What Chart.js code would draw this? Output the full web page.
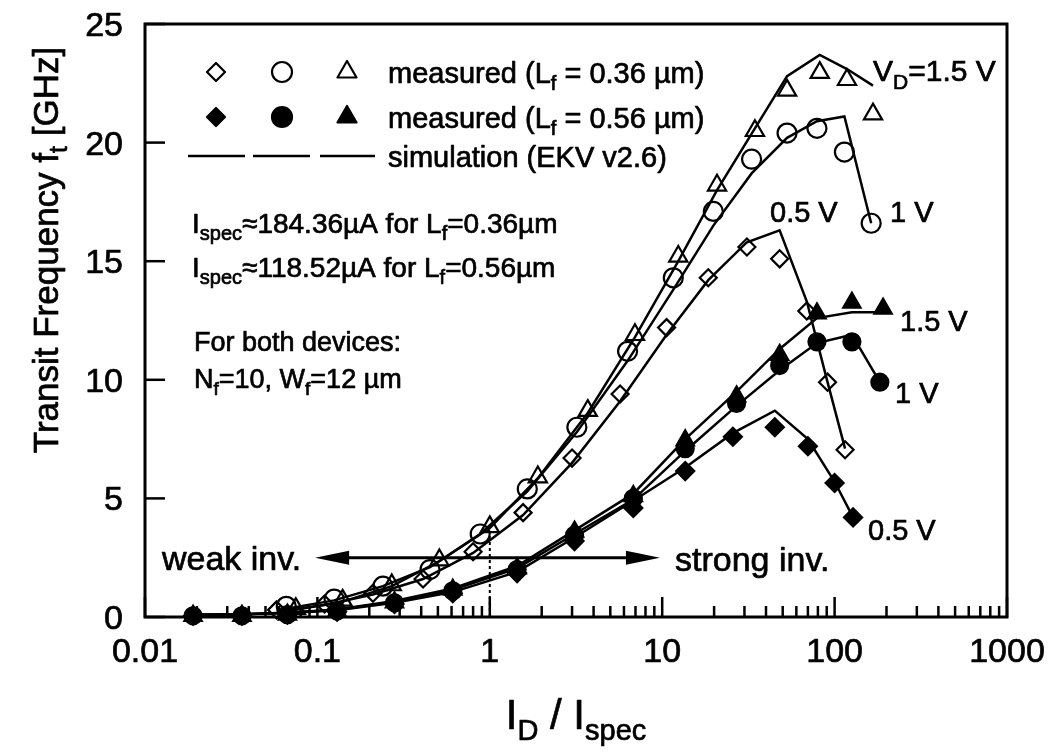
<!DOCTYPE html>
<html>
<head>
<meta charset="utf-8">
<title>Transit frequency vs inversion coefficient</title>
<script src="https://cdn.jsdelivr.net/npm/chart.js@4.4.1/dist/chart.umd.min.js"></script>
<style>
  html, body { margin: 0; padding: 0; background: #fff; }
  #wrap { width: 1053px; height: 752px; }
</style>
</head>
<body>
<div id="wrap"><canvas id="ftChart" width="1053" height="752"></canvas></div>
<script>
// ---- data ----
// measured, Lf = 0.36 um (open symbols), x = ID/Ispec, y = ft [GHz]
const xOpen05 = [0.058, 0.11, 0.21, 0.41, 0.80, 1.56, 3.0, 5.7, 10.6, 18.5, 31, 48, 69, 91, 115];
const yOpen05 = [0.3, 0.55, 1.0, 1.6, 2.75, 4.4, 6.7, 9.4, 12.2, 14.3, 15.6, 15.1, 12.9, 9.9, 7.05];
const xOpen10 = [0.066, 0.125, 0.24, 0.45, 0.88, 1.65, 3.2, 6.3, 11.6, 19.8, 33, 53, 79, 114, 163];
const yOpen10 = [0.45, 0.75, 1.3, 2.0, 3.5, 5.4, 8.0, 11.2, 14.3, 17.1, 19.3, 20.4, 20.6, 19.6, 16.6];
const xOpen15 = [0.075, 0.14, 0.27, 0.51, 1.0, 1.9, 3.7, 6.95, 12.4, 20.8, 34.5, 53, 82, 118, 167];
const yOpen15 = [0.35, 0.7, 1.35, 2.4, 3.8, 5.9, 8.7, 11.9, 15.2, 18.2, 20.5, 22.2, 22.95, 22.65, 21.2];

// measured, Lf = 0.56 um (filled symbols)
const xFill05 = [0.019, 0.0365, 0.067, 0.13, 0.28, 0.61, 1.44, 3.1, 6.8, 13.6, 25.7, 45, 70, 100, 128];
const yFill05 = [0.05, 0.05, 0.1, 0.22, 0.55, 1.0, 1.85, 3.2, 4.6, 6.15, 7.6, 8.0, 7.2, 5.65, 4.2];
const xFill10 = [0.019, 0.0365, 0.067, 0.13, 0.28, 0.61, 1.44, 3.1, 6.8, 13.6, 27, 48, 79, 126, 183];
const yFill10 = [0.05, 0.05, 0.1, 0.25, 0.6, 1.1, 2.0, 3.45, 5.0, 7.1, 9.0, 10.6, 11.6, 11.6, 9.9];
const xFill15 = [0.019, 0.0365, 0.067, 0.13, 0.28, 0.61, 1.44, 3.1, 6.8, 13.6, 27, 48, 79, 126, 191];
const yFill15 = [0.05, 0.05, 0.1, 0.25, 0.62, 1.15, 2.05, 3.6, 5.1, 7.45, 9.3, 11.05, 12.8, 13.25, 13.0];

// simulation (EKV v2.6), same abscissas as the measured points
const ySimOpen05 = [0.25, 0.5, 0.95, 1.6, 2.7, 4.3, 6.5, 9.1, 11.9, 14.2, 15.8, 16.3, 13.3, 9.9, 7.1];
const ySimOpen10 = [0.35, 0.7, 1.3, 2.1, 3.5, 5.3, 7.8, 10.8, 13.8, 16.5, 18.7, 20.2, 20.9, 21.1, 16.6];
const ySimOpen15 = [0.3, 0.65, 1.3, 2.35, 3.75, 5.85, 8.6, 11.8, 15.0, 18.0, 20.6, 22.8, 23.7, 23.1, 22.4];
const ySimFill05 = [0.1, 0.12, 0.17, 0.28, 0.6, 1.05, 1.9, 3.35, 4.9, 6.3, 7.75, 8.7, 7.5, 5.7, 4.2];
const ySimFill10 = [0.1, 0.12, 0.18, 0.3, 0.65, 1.15, 2.05, 3.5, 4.95, 7.0, 8.9, 10.4, 11.55, 11.9, 9.9];
const ySimFill15 = [0.1, 0.12, 0.18, 0.32, 0.68, 1.2, 2.15, 3.65, 5.2, 7.5, 9.5, 11.3, 12.6, 12.85, 12.85];

// axis ticks
const xTickValues = [0.01, 0.1, 1, 10, 100, 1000];
const xTickText = ['0.01', '0.1', '1', '10', '100', '1000'];
const yTickValues = [0, 5, 10, 15, 20, 25];

const FONT = '"Liberation Sans", Arial, Helvetica, sans-serif';

function pts(xs, ys) {
    return xs.map((x, i) => ({ x: x, y: ys[i] }));
}

function measured(label, xs, ys, style, filled, r) {
    return {
        label: label,
        data: pts(xs, ys),
        showLine: false,
        pointStyle: style,
        pointRadius: r,
        pointHoverRadius: r,
        pointBorderWidth: 2.2,
        pointBorderColor: '#000',
        pointBackgroundColor: filled ? '#000' : 'rgba(0,0,0,0)',
        clip: false
    };
}

function simulated(label, xs, ys) {
    return {
        label: label,
        data: pts(xs, ys),
        showLine: true,
        borderColor: '#000',
        borderWidth: 2.5,
        pointRadius: 0,
        tension: 0,
        clip: false
    };
}

// text with subscripts: parts = [[text, isSub], ...], y is the baseline
// a thin stroke makes the glyphs as heavy as in the scanned original
function richText(ctx, parts, x, y, size, align) {
    const subSize = Math.round(size * 0.7);
    let w = 0;
    parts.forEach(p => {
        ctx.font = (p[1] ? subSize : size) + 'px ' + FONT;
        w += ctx.measureText(p[0]).width;
    });
    let cx = x;
    if (align === 'center') cx = x - w / 2;
    if (align === 'right') cx = x - w;
    ctx.textAlign = 'left';
    ctx.textBaseline = 'alphabetic';
    ctx.lineWidth = 0.7;
    ctx.lineJoin = 'round';
    parts.forEach(p => {
        ctx.font = (p[1] ? subSize : size) + 'px ' + FONT;
        const ty = p[1] ? y + size * 0.25 : y;
        ctx.fillText(p[0], cx, ty);
        ctx.strokeText(p[0], cx, ty);
        cx += ctx.measureText(p[0]).width;
    });
}

function symbol(ctx, style, x, y, r, filled) {
    ctx.beginPath();
    if (style === 'circle') {
        ctx.arc(x, y, r, 0, Math.PI * 2);
    } else if (style === 'rectRot') {
        ctx.moveTo(x - r, y); ctx.lineTo(x, y - r); ctx.lineTo(x + r, y); ctx.lineTo(x, y + r);
    } else {
        const h = r * Math.sqrt(3);
        ctx.moveTo(x, y - r); ctx.lineTo(x + h / 2, y + r / 2); ctx.lineTo(x - h / 2, y + r / 2);
    }
    ctx.closePath();
    ctx.fillStyle = '#000';
    if (filled) ctx.fill();
    ctx.lineWidth = 2.2;
    ctx.strokeStyle = '#000';
    ctx.stroke();
}

const decor = {
    id: 'decor',
    afterDraw(chart) {
        const ctx = chart.ctx;
        const a = chart.chartArea;
        const xs = chart.scales.x, ys = chart.scales.y;
        ctx.save();
        ctx.fillStyle = '#000';
        ctx.strokeStyle = '#000';

        // frame
        ctx.lineWidth = 3;
        ctx.strokeRect(a.left, a.top, a.right - a.left, a.bottom - a.top);

        // x ticks (inward, log minor ticks)
        ctx.lineWidth = 2.5;
        for (let e = -2; e <= 3; e++) {
            for (let k = 1; k <= 9; k++) {
                const v = k * Math.pow(10, e);
                if (v > 1000.0001) break;
                const px = xs.getPixelForValue(v);
                const len = k === 1 ? 20 : 11;
                ctx.beginPath();
                ctx.moveTo(px, a.bottom);
                ctx.lineTo(px, a.bottom - len);
                ctx.stroke();
            }
        }
        // y ticks
        yTickValues.forEach(v => {
            const py = ys.getPixelForValue(v);
            ctx.beginPath();
            ctx.moveTo(a.left, py);
            ctx.lineTo(a.left + 20, py);
            ctx.stroke();
        });

        // tick labels
        xTickValues.forEach((v, i) => {
            richText(ctx, [[xTickText[i], false]], xs.getPixelForValue(v), a.bottom + 45, 34, 'center');
        });
        yTickValues.forEach(v => {
            richText(ctx, [[String(v), false]], a.left - 22, ys.getPixelForValue(v) + 12, 34, 'right');
        });

        // axis titles
        richText(ctx, [['I', false], ['D', true], [' / ', false], ['I', false], ['spec', true]],
            (a.left + a.right) / 2, a.bottom + 112, 42, 'center');
        ctx.save();
        ctx.translate(58, 250);
        ctx.rotate(-Math.PI / 2);
        richText(ctx, [['Transit Frequency f', false], ['t', true], [' [GHz]', false]], 0, 0, 35, 'center');
        ctx.restore();

        // legend
        const legendX = [216, 282, 347];
        const styles = ['rectRot', 'circle', 'triangle'];
        const radii = [9, 10, 11];
        styles.forEach((s, i) => {
            symbol(ctx, s, legendX[i], 72, radii[i], false);
            symbol(ctx, s, legendX[i], 117, radii[i], true);
        });
        ctx.lineWidth = 2.5;
        [[188, 245], [253, 310], [320, 375]].forEach(seg => {
            ctx.beginPath();
            ctx.moveTo(seg[0], 156);
            ctx.lineTo(seg[1], 156);
            ctx.stroke();
        });
        richText(ctx, [['measured (L', false], ['f', true], [' = 0.36 \u00b5m)', false]], 388, 83, 29, 'left');
        richText(ctx, [['measured (L', false], ['f', true], [' = 0.56 \u00b5m)', false]], 388, 128, 29, 'left');
        richText(ctx, [['simulation (EKV v2.6)', false]], 388, 167, 29, 'left');

        // notes
        richText(ctx, [['I', false], ['spec', true], ['\u2248184.36\u00b5A for L', false], ['f', true], ['=0.36\u00b5m', false]], 192, 233, 28, 'left');
        richText(ctx, [['I', false], ['spec', true], ['\u2248118.52\u00b5A for L', false], ['f', true], ['=0.56\u00b5m', false]], 192, 277, 28, 'left');
        richText(ctx, [['For both devices:', false]], 194, 351, 27, 'left');
        richText(ctx, [['N', false], ['f', true], ['=10, W', false], ['f', true], ['=12 \u00b5m', false]], 194, 388, 27, 'left');

        // curve labels
        richText(ctx, [['V', false], ['D', true], ['=1.5 V', false]], 873, 81, 30, 'left');
        richText(ctx, [['1 V', false]], 890, 222, 29, 'left');
        richText(ctx, [['0.5 V', false]], 770, 222, 29, 'left');
        richText(ctx, [['1.5 V', false]], 900, 331, 29, 'left');
        richText(ctx, [['1 V', false]], 895, 403, 29, 'left');
        richText(ctx, [['0.5 V', false]], 868, 540, 29, 'left');

        // weak / strong inversion arrow
        const ay = ys.getPixelForValue(2.5);
        const ax0 = xs.getPixelForValue(0.097), ax1 = xs.getPixelForValue(9.7);
        ctx.lineWidth = 3;
        ctx.beginPath();
        ctx.moveTo(ax0 + 20, ay);
        ctx.lineTo(ax1 - 20, ay);
        ctx.stroke();
        [[ax0, 1], [ax1, -1]].forEach(h => {
            ctx.beginPath();
            ctx.moveTo(h[0], ay);
            ctx.lineTo(h[0] + h[1] * 34, ay - 7);
            ctx.lineTo(h[0] + h[1] * 34, ay + 7);
            ctx.closePath();
            ctx.fill();
        });
        richText(ctx, [['weak inv.', false]], 162, 570, 34, 'left');
        richText(ctx, [['strong inv.', false]], 675, 571, 34, 'left');

        // dotted marker at ID = Ispec
        ctx.lineWidth = 2;
        ctx.setLineDash([3, 3]);
        ctx.beginPath();
        ctx.moveTo(xs.getPixelForValue(1), ys.getPixelForValue(0));
        ctx.lineTo(xs.getPixelForValue(1), ys.getPixelForValue(3.6));
        ctx.stroke();
        ctx.setLineDash([]);

        ctx.restore();
    }
};

const chartCtx = document.getElementById('ftChart').getContext('2d');
new Chart(chartCtx, {
    type: 'scatter',
    data: {
        datasets: [
            measured('0.36 um, 0.5 V', xOpen05, yOpen05, 'rectRot', false, 8.5),
            measured('0.36 um, 1 V', xOpen10, yOpen10, 'circle', false, 9.5),
            measured('0.36 um, 1.5 V', xOpen15, yOpen15, 'triangle', false, 10.5),
            measured('0.56 um, 0.5 V', xFill05, yFill05, 'rectRot', true, 9),
            measured('0.56 um, 1 V', xFill10, yFill10, 'circle', true, 8.5),
            measured('0.56 um, 1.5 V', xFill15, yFill15, 'triangle', true, 10),
            simulated('sim 0.36 um, 0.5 V', xOpen05, ySimOpen05),
            simulated('sim 0.36 um, 1 V', xOpen10, ySimOpen10),
            simulated('sim 0.36 um, 1.5 V', xOpen15, ySimOpen15),
            simulated('sim 0.56 um, 0.5 V', xFill05, ySimFill05),
            simulated('sim 0.56 um, 1 V', xFill10, ySimFill10),
            simulated('sim 0.56 um, 1.5 V', xFill15, ySimFill15)
        ]
    },
    options: {
        responsive: false,
        animation: false,
        devicePixelRatio: 1,
        layout: { padding: { top: 24, right: 46, left: 0, bottom: 0 } },
        plugins: {
            legend: { display: false },
            tooltip: { enabled: false },
            title: { display: false }
        },
        scales: {
            x: {
                type: 'logarithmic',
                min: 0.01,
                max: 1000,
                grid: { display: false },
                border: { display: false },
                ticks: { display: false },
                afterFit: s => { s.height = 135; }
            },
            y: {
                type: 'linear',
                min: 0,
                max: 25,
                grid: { display: false },
                border: { display: false },
                ticks: { display: false, stepSize: 5 },
                afterFit: s => { s.width = 145; }
            }
        }
    },
    plugins: [decor]
});
</script>
</body>
</html>
